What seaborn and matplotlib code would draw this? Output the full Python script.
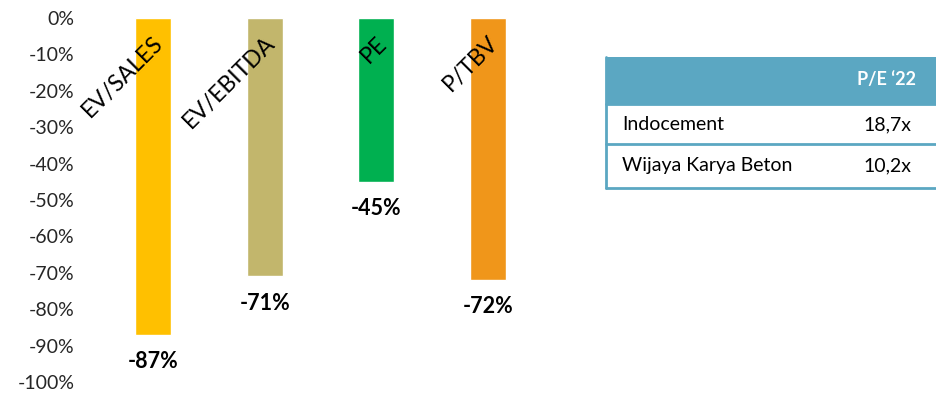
import matplotlib
matplotlib.use("Agg")
import matplotlib.pyplot as plt
import seaborn as sns
import pandas as pd
from matplotlib.patches import Rectangle

# Discount of multiples vs. peers
categories = ["EV/SALES", "EV/EBITDA", "PE", "P/TBV"]
discounts = [-87, -71, -45, -72]
bar_colors = ["#FFC000", "#C2B66C", "#00B050", "#F0961A"]

# Peer P/E table
table_header = "P/E \u201822"
companies = ["Indocement", "Wijaya Karya Beton"]
pe_2022 = ["18,7x", "10,2x"]

yticks = list(range(0, -101, -10))

sns.set_theme(style="white")
plt.rcParams["font.family"] = ["Lato", "DejaVu Sans"]

df = pd.DataFrame({"metric": categories, "discount": discounts})

fig = plt.figure(figsize=(9.37, 3.97), dpi=100)
ax = fig.add_axes([80 / 937, 15 / 397, 480 / 937, 364 / 397])

sns.barplot(data=df, x="metric", y="discount", hue="metric",
            palette=bar_colors, width=0.32, legend=False, ax=ax,
            saturation=1)

ax.set_ylim(-100, 0)
ax.set_xlim(-0.654, 3.645)
ax.set_yticks(yticks)
ax.set_yticklabels([f"{t}%" for t in yticks], fontsize=14)
ax.tick_params(axis="y", length=0, pad=4)
ax.set_xticks([])
ax.set_xlabel("")
ax.set_ylabel("")
for s in ax.spines.values():
    s.set_visible(False)

for i, (cat, val) in enumerate(zip(categories, discounts)):
    ax.text(i + 0.06, -6.0, cat, rotation=45, rotation_mode="anchor",
            ha="right", va="center", fontsize=16.5, color="black")
    ax.text(i, val - 7.3, f"{val}%", ha="center", va="center",
            fontsize=15.5, fontweight="bold", color="black")

# Side table drawn in figure pixel coordinates
teal = "#5BA7C2"
W, H = 937, 397


def fx(px):
    return px / W


def fy(py):
    return 1 - py / H


left, right = 606, 945
top, head_bot, row1_bot, bot = 57, 104, 144, 188
fig.patches.append(Rectangle((fx(left), fy(head_bot)), fx(right) - fx(left),
                             fy(top) - fy(head_bot), transform=fig.transFigure,
                             facecolor=teal, edgecolor="none"))
for yy in (head_bot, row1_bot, bot):
    fig.add_artist(plt.Line2D([fx(left), fx(right)], [fy(yy), fy(yy)],
                              transform=fig.transFigure, color=teal, lw=2))
fig.add_artist(plt.Line2D([fx(left), fx(left)], [fy(top), fy(bot)],
                          transform=fig.transFigure, color=teal, lw=2))

fig.text(fx(887), fy(80), table_header, ha="center", va="center",
         fontsize=13, fontweight="bold", color="white")
row_centers = [125, 166]
for name, val, yc in zip(companies, pe_2022, row_centers):
    fig.text(fx(622), fy(yc), name, ha="left", va="center",
             fontsize=14, color="black")
    fig.text(fx(887), fy(yc), val, ha="center", va="center",
             fontsize=14, color="black")

fig.savefig("out.png", dpi=100, facecolor="white")
